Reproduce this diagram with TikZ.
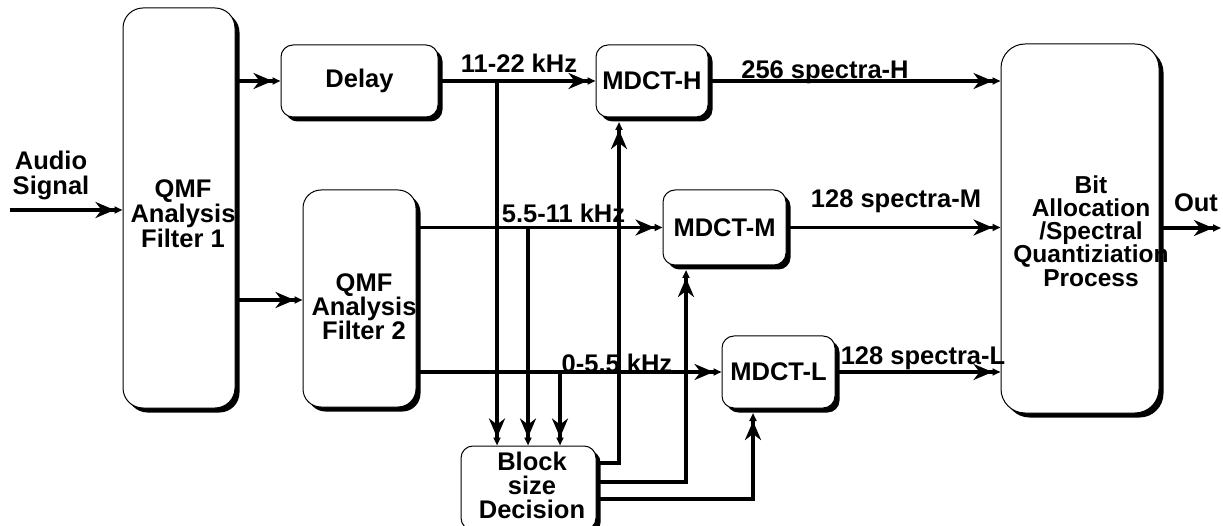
\documentclass[tikz,border=0pt]{standalone}
\usepackage{fontspec}
\setmainfont{Liberation Sans}
\usetikzlibrary{arrows.meta,shadows}
\begin{document}
\begin{tikzpicture}[x=1pt,y=-1pt,
  txt/.style={font=\fontsize{25.5}{25}\selectfont\bfseries, inner sep=0pt, align=center},
  box/.style={draw, line width=1pt, fill=white, rounded corners=12pt, align=center, inner sep=0pt,
    font=\fontsize{25.5}{25}\selectfont\bfseries,
    drop shadow={shadow xshift=4.5pt, shadow yshift=-4.5pt, opacity=1, fill=black}},
  lbl/.style={font=\fontsize{25.5}{25}\selectfont\bfseries, inner sep=0pt, anchor=base},
  arr/.style={line width=3.2pt, -{Stealth[length=19pt,width=16pt,inset=6pt] Triangle[length=8pt,width=7pt]}}]
\useasboundingbox (0,0) rectangle (1223,526);

% boxes
\node[box, rounded corners=20pt, minimum width=112pt, minimum height=400pt] (qmf1) at (179,208) {};
\node[txt] (qmf1t) at (183,214) {QMF\\Analysis\\Filter 1};
\node[box, minimum width=157pt, minimum height=72pt] (delay) at (359.5,81) {Delay};
\node[box, rounded corners=18pt, minimum width=113pt, minimum height=217pt] (qmf2) at (359.5,298.5) {};
\node[txt, font=\fontsize{25.5}{23.5}\selectfont\bfseries] (qmf2t) at (364,307) {QMF\\Analysis\\Filter 2};
\node[box, minimum width=112pt, minimum height=72pt] (mdcth) at (652,81) {MDCT-H};
\node[box, minimum width=123pt, minimum height=75pt] (mdctm) at (724.5,227.5) {MDCT-M};
\node[box, minimum width=113pt, minimum height=72pt] (mdctl) at (778.5,372) {MDCT-L};
\node[box, minimum width=135pt, minimum height=84pt] (block) at (528.5,488) {};
\node[txt, font=\fontsize{25.5}{24}\selectfont\bfseries] (blockt) at (532,485) {Block\\size\\Decision};
\node[box, rounded corners=24pt, minimum width=158pt, minimum height=369pt] (bit) at (1080,228.5) {};
\node[txt, font=\fontsize{24.5}{23.2}\selectfont\bfseries] (bitt) at (1091,231) {Bit\\Allocation\\/Spectral\\Quantiziation\\Process};

% inputs / outputs
\coordinate (audio) at (10,210);
\coordinate (out) at (1221,228);
\node[txt] (audiot) at (51,175) {Audio\\Signal};
\draw[arr] (audio) -- (audio -| qmf1.west);
\draw[arr] (qmf1.east |- delay) -- (delay.west);
\draw[arr] (qmf1.east |- 0,300) -- (qmf2.west |- 0,300);
\draw[arr] (delay.east) -- (mdcth.west);
\draw[arr] (qmf2.east |- mdctm) -- (mdctm.west);
\draw[arr] (qmf2.east |- mdctl) -- (mdctl.west);
\draw[arr] (mdcth.east) -- (mdcth.east -| bit.west);
\draw[arr] (mdctm.east) -- (mdctm.east -| bit.west);
\draw[arr] (mdctl.east) -- (mdctl.east -| bit.west);
\draw[arr] (bit.east |- out) -- (out);

% taps to block size decision
\coordinate (j1) at (497,81);
\coordinate (j2) at (528,227);
\coordinate (j3) at (560,373);
\draw[arr] (j1) -- (j1 |- block.north);
\draw[arr] (j2) -- (j2 |- block.north);
\draw[arr] (j3) -- (j3 |- block.north);

% block size decision outputs
\draw[arr, shorten >=4.5pt] (block.east |- 0,463) -| (619,0 |- mdcth.south);
\draw[arr, shorten >=4.5pt] (block.east |- 0,482) -| (686,0 |- mdctm.south);
\draw[arr, shorten >=4.5pt] (block.east |- 0,499) -| (753,0 |- mdctl.south);

% labels
\node[lbl] (l1) at (519,73) {11-22 kHz};
\node[lbl] (l2) at (563.5,223) {5.5-11 kHz};
\node[lbl] (l3) at (617,372) {0-5.5 kHz};
\node[lbl] (l4) at (825,79) {256 spectra-H};
\node[lbl] (l5) at (896,208) {128 spectra-M};
\node[lbl] (l6) at (923,365) {128 spectra-L};
\node[lbl] (l7) at (1196,212) {Out};
\end{tikzpicture}
\end{document}
